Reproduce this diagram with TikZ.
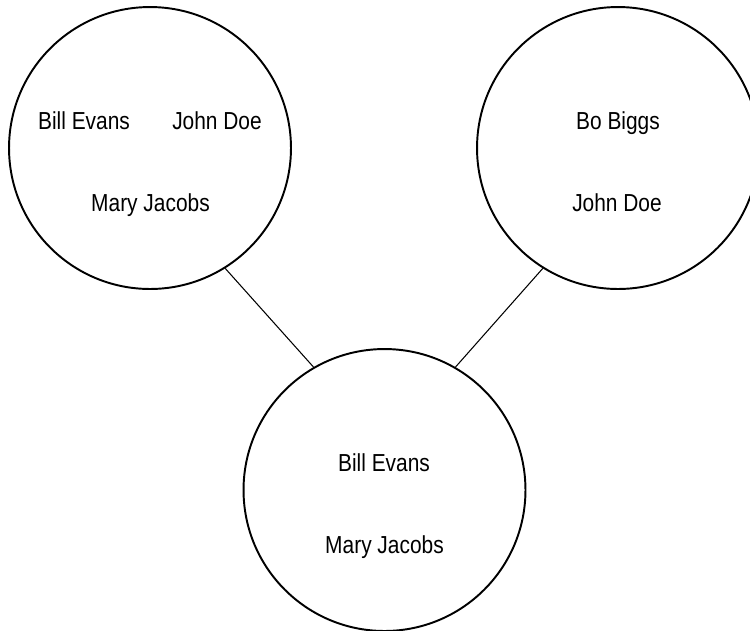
\documentclass[tikz,border=0pt]{standalone}
\usepackage{fontspec}
\setmainfont{Liberation Sans}[FakeStretch=0.85]
\usepackage{tikz}
\usetikzlibrary{positioning}
\tikzset{group/.style={circle, draw, line width=1.1pt, minimum size=5.64cm, inner sep=0pt}}
\tikzset{person/.style={anchor=base, inner sep=0pt, font=\fontsize{14}{16}\selectfont}}
\tikzset{link/.style={line width=0.6pt}}

\begin{document}
\begin{tikzpicture}[x=0.02cm, y=-0.02cm]
          \clip (0,0) rectangle (750,630);
          % the three groups
          \node[group] (tl) at (150,148) {};
          \node[group] (tr) at (618,148) {};
          \node[group] (bot) at (384.5,490) {};
          % members
          \node[person] (tlbill) at (84,129) {Bill Evans};
          \node[person] (tljohn) at (217,129) {John Doe};
          \node[person] (tlmary) at (150.5,211) {Mary Jacobs};
          \node[person] (trbo) at (618,129) {Bo Biggs};
          \node[person] (trjohn) at (617,211) {John Doe};
          \node[person] (botbill) at (384,471) {Bill Evans};
          \node[person] (botmary) at (384.5,553) {Mary Jacobs};
          % connectors
          \draw[link] (tl.-58) -- (bot.120);
          \draw[link] (tr.-122) -- (bot.60);
        \end{tikzpicture}
\end{document}
